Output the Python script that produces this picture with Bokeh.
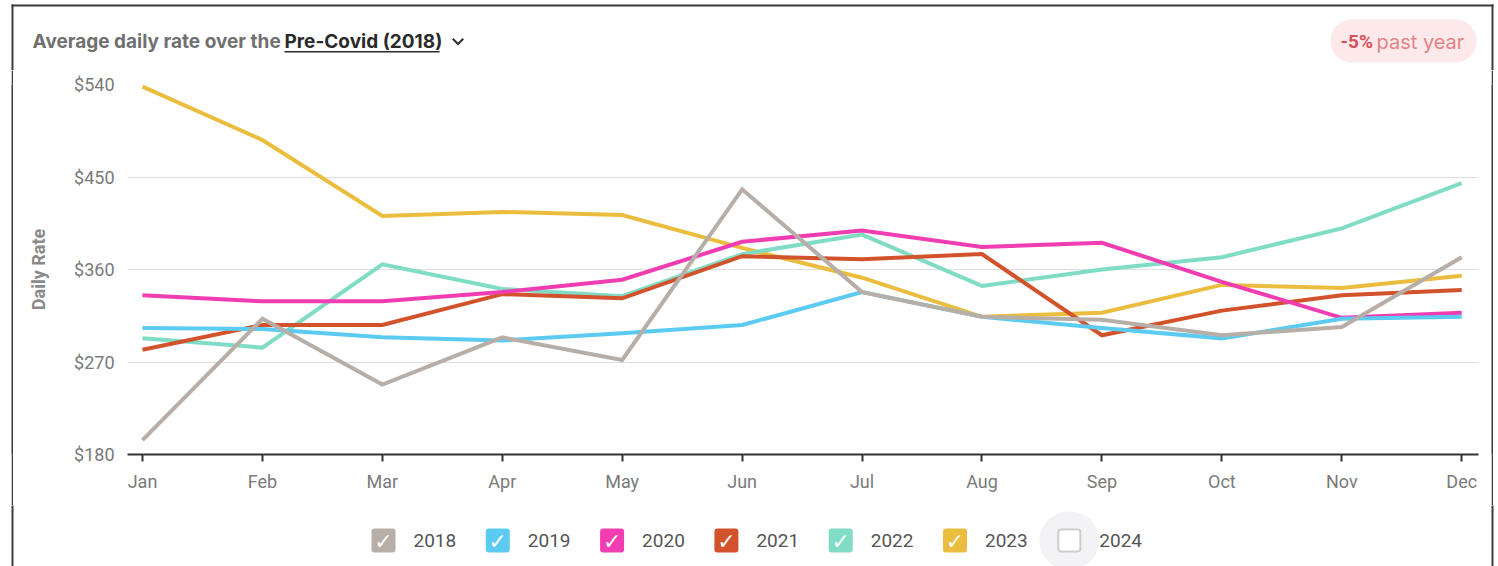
from bokeh.plotting import figure
from bokeh.layouts import column, row
from bokeh.models import (Range1d, FixedTicker, NumeralTickFormatter, Label,
                          BoxAnnotation, PolyAnnotation)
from bokeh.embed import file_html
from bokeh.resources import INLINE

# ---------------- data ----------------
months = ["Jan", "Feb", "Mar", "Apr", "May", "Jun",
          "Jul", "Aug", "Sep", "Oct", "Nov", "Dec"]
years = ["2018", "2019", "2020", "2021", "2022", "2023", "2024"]

rate_2018 = [194, 312, 248, 294, 272, 438, 338, 314, 311, 296, 304, 372]
rate_2019 = [303, 302, 294, 291, 298, 306, 338, 314, 303, 293, 312, 314]
rate_2020 = [335, 329, 329, 338, 350, 387, 398, 382, 386, 348, 313, 318]
rate_2021 = [282, 306, 306, 336, 332, 373, 370, 375, 296, 320, 335, 340]
rate_2022 = [293, 284, 365, 341, 334, 375, 394, 344, 360, 372, 400, 444]
rate_2023 = [538, 486, 412, 416, 413, 381, 352, 314, 318, 345, 342, 354]
rate_2024 = []  # unchecked in the legend, not drawn

series = [rate_2018, rate_2019, rate_2020, rate_2021, rate_2022, rate_2023, rate_2024]
colors = ["#b7afa7", "#5ccbf1", "#f03db2", "#d2522b", "#80dcc5", "#ebbd3f", "#ffffff"]
checked = [True, True, True, True, True, True, False]

y_ticks = [180, 270, 360, 450, 540]

title_text = "Average daily rate over the"
period_text = "Pre-Covid (2018)"
badge_value = "-5%"
badge_text = "past year"

W, H = 1498, 566
BORDER = "#3a3a3a"


def blank(width, height, xr=None, yr=None, fill="white"):
    f = figure(width=width, height=height, output_backend="svg", toolbar_location=None,
               x_range=xr or Range1d(0, 1), y_range=yr or Range1d(0, 1),
               x_axis_type=None, y_axis_type=None, min_border=0)
    f.outline_line_color = None
    f.background_fill_color = fill
    f.border_fill_color = fill
    return f


def label(f, text, x, y, size, color, font="Inter", style="normal", align="left"):
    f.add_layout(Label(x=x, y=y, text=text, text_font=font, text_font_size=size,
                       text_font_style=style, text_color=color,
                       text_align=align, text_baseline="middle"))


def box(f, l, r, t, b, fill, line=None, lw=0, radius=0, fill_alpha=1.0):
    f.add_layout(BoxAnnotation(left=l, right=r, top=t, bottom=b,
                               fill_color=fill, fill_alpha=fill_alpha,
                               line_color=line, line_width=lw,
                               border_radius=radius))


# ---------------- header (page pixels, y from top) ----------------
HEAD_H = 70
head = blank(W, HEAD_H, Range1d(0, W), Range1d(HEAD_H, 0))
box(head, 11, 1493, 4, 6, BORDER)          # card top edge
box(head, 11, 13, 4, 400, BORDER)          # card left edge
box(head, 1491, 1493, 4, 400, BORDER)      # card right edge
label(head, title_text, 32, 41, "19px", "#707070", style="bold")
label(head, period_text, 284, 41, "19px", "#2a2a2a", style="bold")
box(head, 284, 439, 50.5, 52, "#2a2a2a")
head.add_layout(PolyAnnotation(xs=[451.5, 453.0, 457.5, 462.0, 463.5, 457.5],
                               ys=[39.0, 37.5, 42.0, 37.5, 39.0, 45.0],
                               fill_color="#333333", fill_alpha=1, line_color=None))
box(head, 1330, 1476, 19, 62, "#fde9e9", radius=21)
label(head, badge_value, 1340, 41, "19px", "#d9505a", font="Roboto", style="bold")
label(head, badge_text, 1376, 41, "20px", "#e2848a")

# ---------------- main chart ----------------
MAIN_H = 435
p = figure(width=1478, height=MAIN_H, output_backend="svg", toolbar_location=None,
           x_range=Range1d(-0.125, 11.14), y_range=Range1d(180, 540),
           min_border_left=114, min_border_right=13,
           min_border_top=14, min_border_bottom=51)
p.outline_line_color = None
p.background_fill_color = "white"
p.border_fill_color = "white"

p.xaxis.ticker = FixedTicker(ticks=list(range(len(months))))
p.xaxis.major_label_overrides = {i: m for i, m in enumerate(months)}
p.xaxis.axis_line_color = "#333333"
p.xaxis.axis_line_width = 2
p.xaxis.major_tick_line_color = "#333333"
p.xaxis.major_tick_line_width = 2
p.xaxis.major_tick_in = 0
p.xaxis.major_tick_out = 7
p.xaxis.minor_tick_line_color = None
p.xaxis.major_label_standoff = 9
p.xaxis.major_label_text_font = "Roboto"
p.xaxis.major_label_text_font_size = "18px"
p.xaxis.major_label_text_color = "#7a7a7a"

p.yaxis.ticker = FixedTicker(ticks=y_ticks)
p.yaxis.formatter = NumeralTickFormatter(format="$0")
p.yaxis.axis_line_color = None
p.yaxis.major_tick_line_color = None
p.yaxis.minor_tick_line_color = None
p.yaxis.major_tick_in = 0
p.yaxis.major_tick_out = 0
p.yaxis.major_label_standoff = 13
p.yaxis.major_label_text_font = "Roboto"
p.yaxis.major_label_text_font_size = "18px"
p.yaxis.major_label_text_color = "#7a7a7a"
p.yaxis.axis_label = "Daily Rate"
p.yaxis.axis_label_text_font = "Roboto"
p.yaxis.axis_label_text_font_style = "bold"
p.yaxis.axis_label_text_font_size = "18px"
p.yaxis.axis_label_text_color = "#8a8a8a"
p.yaxis.axis_label_standoff = 22

p.xgrid.grid_line_color = None
p.ygrid.ticker = FixedTicker(ticks=y_ticks)
p.ygrid.grid_line_color = "#dedede"
p.ygrid.grid_line_width = 1

x_idx = list(range(len(months)))
# first dataset drawn on top, as in the original
for yr, vals, col, on in reversed(list(zip(years, series, colors, checked))):
    if on and vals:
        p.line(x_idx, vals, line_color=col, line_width=4, line_join="miter")

# card side borders beside the chart: white gap | dark 2px | chart | dark 2px | white gap
middle = row(blank(11, MAIN_H), blank(2, MAIN_H, fill=BORDER), p,
             blank(2, MAIN_H, fill=BORDER), blank(5, MAIN_H))

# ---------------- legend (page pixels, y from top) ----------------
LEG_TOP = HEAD_H + MAIN_H
leg = blank(W, H - LEG_TOP, Range1d(0, W), Range1d(H, LEG_TOP))
box(leg, 11, 13, 300, 800, BORDER)
box(leg, 1491, 1493, 300, 800, BORDER)
x0, step, sq = 371, 114.3, 24
for i, (yr, col, on) in enumerate(zip(years, colors, checked)):
    lx = x0 + i * step
    if on:
        box(leg, lx, lx + sq, 528, 552, col, radius=3)
        label(leg, "\u2713", lx + sq / 2, 541, "22px", "white", font="DejaVu Sans", align="center")
    else:
        box(leg, lx - 18, lx + sq + 18, 511, 569, "#f3f3f6", radius=29)
        box(leg, lx + 1, lx + sq - 1, 529, 551, "white", line="#6a6a6a", lw=2, radius=3)
    label(leg, yr, lx + 42, 540, "19px", "#555555", font="Roboto")

layout = column(head, middle, leg)
open("out.html", "w").write(file_html(layout, INLINE))
